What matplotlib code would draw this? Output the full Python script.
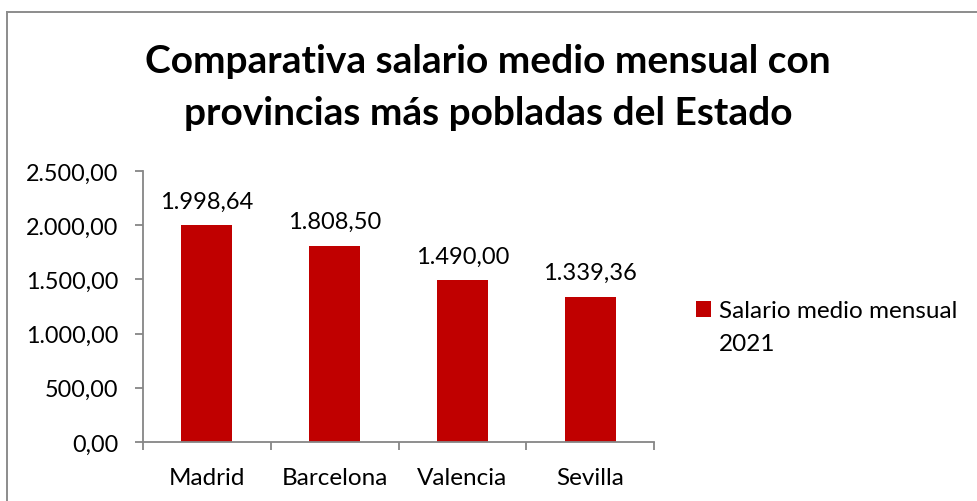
import matplotlib.pyplot as plt
from matplotlib.lines import Line2D
from matplotlib.patches import Patch

provincias = ["Madrid", "Barcelona", "Valencia", "Sevilla"]
salario_2021 = [1998.64, 1808.50, 1490.00, 1339.36]
y_ticks = [0, 500, 1000, 1500, 2000, 2500]
serie = "Salario medio mensual"
anio = "2021"
titulo = "Comparativa salario medio mensual con\nprovincias más pobladas del Estado"

RED = "#c00000"
AXIS = "#868686"

plt.rcParams.update({"font.family": ["Lato", "DejaVu Sans"], "font.size": 17})


def es_num(v):
    # formato español: 1.998,64
    s = f"{v:,.2f}"
    return s.replace(",", "X").replace(".", ",").replace("X", ".")


fig = plt.figure(figsize=(9.77, 5.02), dpi=100)
ax = fig.add_axes([0.1464, 0.1175, 0.523, 0.54])

xpos = list(range(len(provincias)))
bars = ax.bar(xpos, salario_2021, width=0.4, color=RED, label=serie)
for x, v in zip(xpos, salario_2021):
    ax.annotate(es_num(v), (x, v), xytext=(0, 10), textcoords="offset points",
                ha="center", va="bottom", fontsize=17)

ax.set_xlim(-0.5, len(provincias) - 0.5)
ax.set_ylim(0, 2500)
ax.set_yticks(y_ticks)
ax.set_yticklabels([es_num(t) for t in y_ticks])
ax.set_xticks(xpos)
ax.set_xticklabels(provincias, fontsize=17.5)
ax.set_xticks([x - 0.5 for x in xpos] + [len(provincias) - 0.5], minor=True)
ax.tick_params(axis="x", which="major", length=0, pad=18)
ax.tick_params(axis="x", which="minor", length=6, width=1.3, color=AXIS)
ax.tick_params(axis="y", length=6, width=1.3, color=AXIS, pad=12, labelsize=16.8)
for side in ("top", "right"):
    ax.spines[side].set_visible(False)
for side in ("left", "bottom"):
    ax.spines[side].set_color(AXIS)
    ax.spines[side].set_linewidth(1.3)

# título en dos líneas, con la separación de Excel
for y_px, linea in zip([73, 125], titulo.split("\n")):
    fig.text(0.4995, 1 - y_px / 502, linea, ha="center", va="baseline",
             fontsize=28, fontweight="bold")

handles = [Patch(facecolor=RED), Patch(visible=False)]
fig.legend(handles, [serie, anio], loc="upper left", bbox_to_anchor=(0.712, 0.4),
           frameon=False, handlelength=0.65, handleheight=0.65, handletextpad=0.3,
           labelspacing=0.5, borderaxespad=0, borderpad=0, fontsize=17.5)

# marco del gráfico (solo visible arriba e izquierda)
top = 1 - 13 / 502
left = 6.5 / 977
fig.add_artist(Line2D([left, left], [0, top], color="#8c8c8c", lw=1.4))
fig.add_artist(Line2D([left, 1], [top, top], color="#8c8c8c", lw=1.4))

fig.savefig("out.png", dpi=100)
